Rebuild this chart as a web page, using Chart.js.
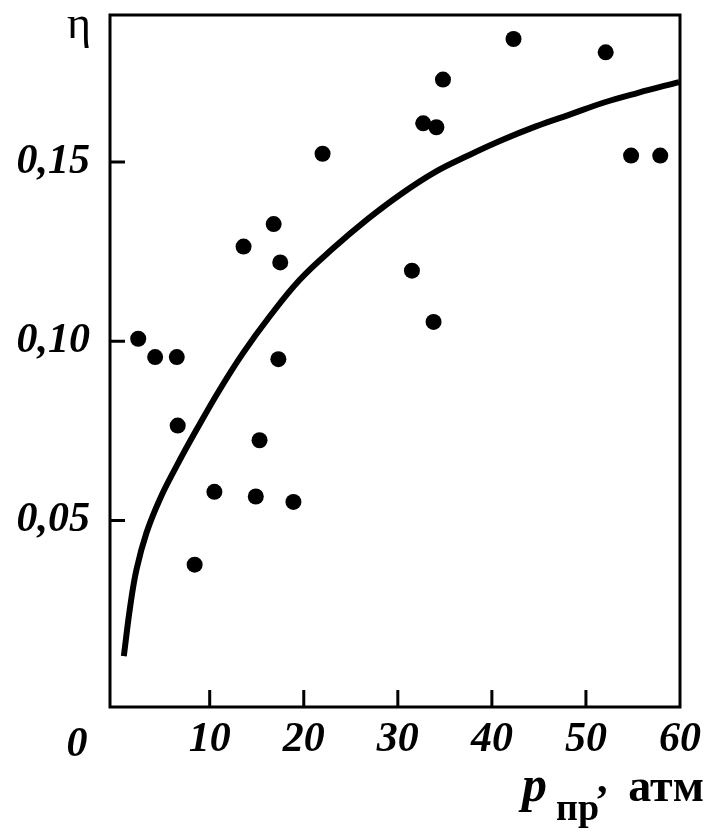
<!DOCTYPE html>
<html>
<head>
<meta charset="utf-8">
<script src="https://cdn.jsdelivr.net/npm/chart.js@4/dist/chart.umd.min.js"></script>
<style>
  body { margin: 0; background: #fff; }
  canvas { display: block; }
</style>
</head>
<body>
<canvas id="myChart" width="717" height="833"></canvas>
<script>
// measured points: pressure (atm) and efficiency
var pressure = [2.4, 4.2, 6.5, 6.6, 8.4, 10.5, 13.6, 14.9, 15.3, 16.8, 17.5, 17.3, 18.9,
                22.0, 31.5, 32.7, 33.8, 34.1, 34.8, 42.3, 52.1, 54.8, 57.9];
var efficiency = [0.1007, 0.0956, 0.0956, 0.0765, 0.0377, 0.0580, 0.1264, 0.0567, 0.0724, 0.1327, 0.1220, 0.0950, 0.0552,
                  0.1523, 0.1197, 0.1608, 0.1054, 0.1597, 0.1730, 0.1843, 0.1806, 0.1518, 0.1518];

// fitted curve
var curveX = [0.87, 1.55, 2.22, 3.28, 4.69, 6.46, 8.59, 11.06, 13.54, 16.37, 19.55, 23.15, 26.75,
              30.35, 33.95, 37.55, 41.15, 44.75, 48.34, 51.93, 55.54, 59.9];
var curveY = [0.0122, 0.0261, 0.0364, 0.0466, 0.0559, 0.0651, 0.0753, 0.0865, 0.0967, 0.1069, 0.1171, 0.1260, 0.1340,
              0.1411, 0.1472, 0.1519, 0.1562, 0.1600, 0.1633, 0.1666, 0.1693, 0.1723];

var xTicks = [10, 20, 30, 40, 50, 60];
var yTicks = [0.05, 0.10, 0.15];

var numFont = { family: "'Liberation Serif', serif", size: 42, style: "italic", weight: "bold" };

var points = pressure.map(function (p, i) { return { x: p, y: efficiency[i] }; });
var curve = curveX.map(function (p, i) { return { x: p, y: curveY[i] }; });

// frame, inward ticks and extra labels
var decor = {
  id: "decor",
  afterDraw: function (chart) {
    var c = chart.ctx, a = chart.chartArea;
    var xs = chart.scales.x, ys = chart.scales.y;
    c.save();
    c.strokeStyle = "#000";
    c.lineWidth = 3;
    c.strokeRect(a.left, a.top, a.right - a.left, a.bottom - a.top);
    c.beginPath();
    for (var i = 0; i < xTicks.length - 1; i++) {
      var px = xs.getPixelForValue(xTicks[i]);
      c.moveTo(px, a.bottom);
      c.lineTo(px, a.bottom - 17);
    }
    for (var j = 0; j < yTicks.length; j++) {
      var py = ys.getPixelForValue(yTicks[j]);
      c.moveTo(a.left, py);
      c.lineTo(a.left + 15, py);
    }
    c.stroke();

    c.fillStyle = "#000";
    c.textBaseline = "alphabetic";
    c.textAlign = "center";
    c.font = "italic bold 42px 'Liberation Serif'";
    c.fillText("0", 77, 756);

    c.font = "46px 'Liberation Serif'";
    c.fillText("η", 79, 38);

    c.textAlign = "left";
    c.font = "italic bold 50px 'Liberation Serif'";
    c.fillText("p", 522, 801);
    c.font = "bold 38px 'Liberation Serif'";
    c.fillText("пр", 556, 820);
    c.font = "bold 42px 'Liberation Serif'";
    c.fillText(",", 597, 792);
    c.textAlign = "right";
    c.font = "bold 46px 'Liberation Serif'";
    c.fillText("атм", 704, 801);
    c.restore();
  }
};

var ctx = document.getElementById("myChart").getContext("2d");

var myChart = new Chart(ctx, {
  type: "scatter",
  data: {
    datasets: [
      {
        data: points,
        pointRadius: 8,
        pointBackgroundColor: "#000",
        pointBorderWidth: 0,
        showLine: false
      },
      {
        data: curve,
        showLine: true,
        pointRadius: 0,
        borderColor: "#000",
        borderWidth: 6,
        tension: 0.4,
        fill: false
      }
    ]
  },
  options: {
    responsive: false,
    animation: false,
    layout: { padding: { left: 0, right: 37, top: 15, bottom: 0 } },
    plugins: { legend: { display: false }, tooltip: { enabled: false } },
    scales: {
      x: {
        type: "linear",
        min: -0.6,
        max: 60,
        afterBuildTicks: function (s) { s.ticks = xTicks.map(function (v) { return { value: v }; }); },
        afterFit: function (s) { s.height = 126; s.paddingLeft = 0; s.paddingRight = 0; },
        grid: { display: false, drawTicks: false },
        border: { display: false },
        ticks: { font: numFont, color: "#000", padding: 8, autoSkip: false, maxRotation: 0 }
      },
      y: {
        min: -0.002,
        max: 0.191,
        afterBuildTicks: function (s) { s.ticks = yTicks.map(function (v) { return { value: v }; }); },
        afterFit: function (s) { s.width = 110; s.paddingTop = 0; s.paddingBottom = 0; },
        grid: { display: false, drawTicks: false },
        border: { display: false },
        ticks: {
          font: numFont,
          color: "#000",
          padding: 20,
          callback: function (v) { return v.toFixed(2).replace(".", ","); }
        }
      }
    }
  },
  plugins: [decor]
});
</script>
</body>
</html>
